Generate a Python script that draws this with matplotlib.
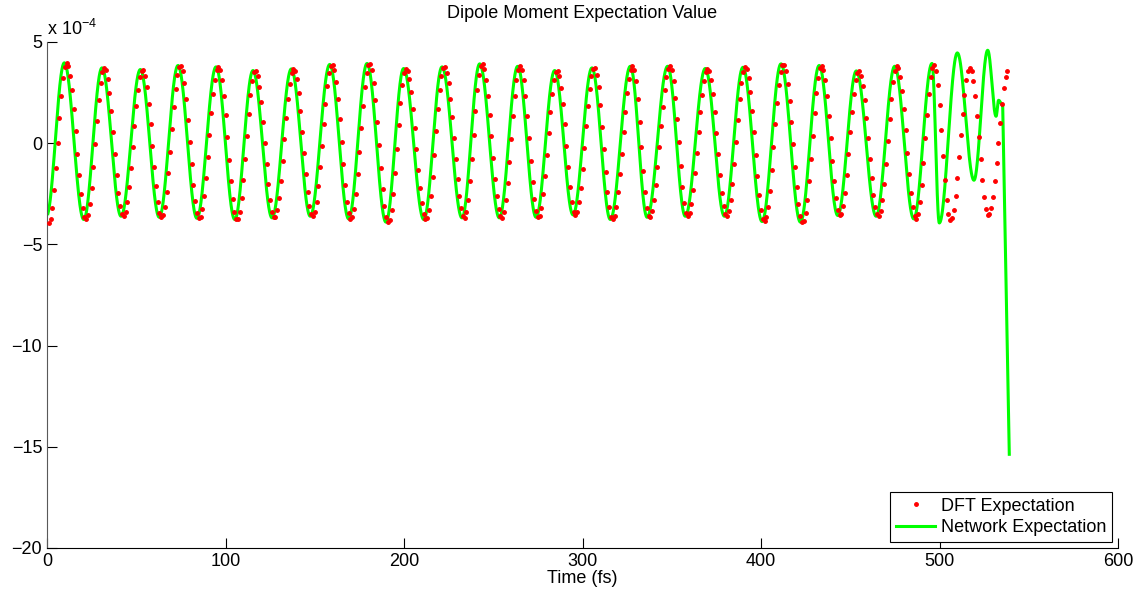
import numpy as np
import matplotlib
matplotlib.use('Agg')
import matplotlib.pyplot as plt

plt.rcParams['font.family'] = ['Liberation Sans', 'DejaVu Sans']
plt.rcParams['mathtext.default'] = 'regular'

# values in units of 1e-4, times in fs
# network expectation: alternating trough / peak extrema of the regular part
net_ext_t = [-0.3, 9.7, 20.6, 30.8, 41.5, 52.3, 62.9, 73.4, 84.0, 94.7, 105.2,
             115.4, 126.1, 136.9, 147.5, 158.4, 169.0, 179.3, 189.9, 199.8, 211.1,
             221.3, 232.5, 242.4, 253.4, 263.7, 274.0, 284.4, 294.7, 305.3, 315.6,
             326.8, 336.2, 347.7, 357.6, 368.8, 379.5, 389.9, 400.6, 411.2, 422.1,
             432.6, 443.0, 453.4, 464.5, 474.9, 485.6]
net_ext_v = [-3.60, 3.97, -3.77, 3.72, -3.61, 3.64, -3.66, 3.84, -3.71, 3.77, -3.77,
             3.59, -3.69, 3.67, -3.61, 3.89, -3.74, 3.94, -3.90, 3.69, -3.77,
             3.77, -3.69, 3.92, -3.69, 3.80, -3.66, 3.59, -3.54, 3.72, -3.77,
             3.80, -3.66, 3.80, -3.61, 3.69, -3.61, 3.75, -3.87, 3.92, -3.90,
             3.84, -3.57, 3.57, -3.61, 3.80, -3.74]
# irregular end of the network curve
net_tail_t = [495.8, 499.9, 510.0, 519.3, 527.0, 531.7, 533.1, 535.4]
net_tail_v = [3.94, -3.94, 4.46, -1.83, 4.59, 1.33, 2.12, 1.88]
net_drop_t = [535.4, 539.1]
net_drop_v = [1.88, -15.37]

# DFT samples (one per fs) lag the network curve slightly
dft_lag = 1.3
dft_start_v = -3.95
dft_tail_t = [496.8, 506.2, 517.0, 527.4, 538.6]
dft_tail_v = [3.85, -3.80, 3.72, -3.57, 3.62]
dft_times = np.arange(1, 539)


def half_cos_path(ext_t, ext_v, t):
    ext_t = np.asarray(ext_t)
    ext_v = np.asarray(ext_v)
    i = np.clip(np.searchsorted(ext_t, t) - 1, 0, len(ext_t) - 2)
    s = (t - ext_t[i]) / (ext_t[i + 1] - ext_t[i])
    return ext_v[i] + (ext_v[i + 1] - ext_v[i]) * (1 - np.cos(np.pi * s)) / 2


net_t_all = net_ext_t + net_tail_t
net_v_all = net_ext_v + net_tail_v
t_net = np.linspace(0.5, net_tail_t[-1], 4000)
v_net = half_cos_path(net_t_all, net_v_all, t_net)
t_net = np.append(t_net, net_drop_t[1:])
v_net = np.append(v_net, net_drop_v[1:])

dft_t_all = [t + dft_lag for t in net_ext_t] + dft_tail_t
dft_v_all = [dft_start_v] + net_ext_v[1:] + dft_tail_v
v_dft = half_cos_path(dft_t_all, dft_v_all, dft_times.astype(float))

fig = plt.figure(figsize=(11.37, 5.94), dpi=100)
ax = fig.add_axes([47 / 1137, 46 / 594, 1071 / 1137, 506 / 594])

ax.plot(t_net, v_net, color='#00ff00', lw=2.2, label='Network Expectation', zorder=2)
ax.plot(dft_times, v_dft, '.', color='#ff0000', ms=5, label='DFT Expectation', zorder=3)

ax.set_xlim(0, 600)
ax.set_ylim(-20, 5)
ax.set_xticks(range(0, 601, 100))
ax.set_yticks(range(-20, 6, 5))
ax.tick_params(direction='in', length=7, width=0.8, labelsize=13, top=False, right=False)
for side in ['top', 'right']:
    ax.spines[side].set_visible(False)
ax.spines['left'].set_color('0.35')
ax.set_xlabel('Time (fs)', fontsize=13, labelpad=0)
ax.set_title('Dipole Moment Expectation Value', fontsize=13, pad=17)
ax.text(0, 1.005, 'x 10$^{-4}$', transform=ax.transAxes, fontsize=13, ha='left', va='bottom')

h, l = ax.get_legend_handles_labels()
leg = ax.legend(h[::-1], l[::-1], loc='lower right', fontsize=13, fancybox=False,
                edgecolor='black', framealpha=1, borderaxespad=0.35, handlelength=2.2,
                handletextpad=0.3, borderpad=0.3, labelspacing=0.25)
leg.get_frame().set_linewidth(0.8)

plt.savefig('out.png', dpi=100)
